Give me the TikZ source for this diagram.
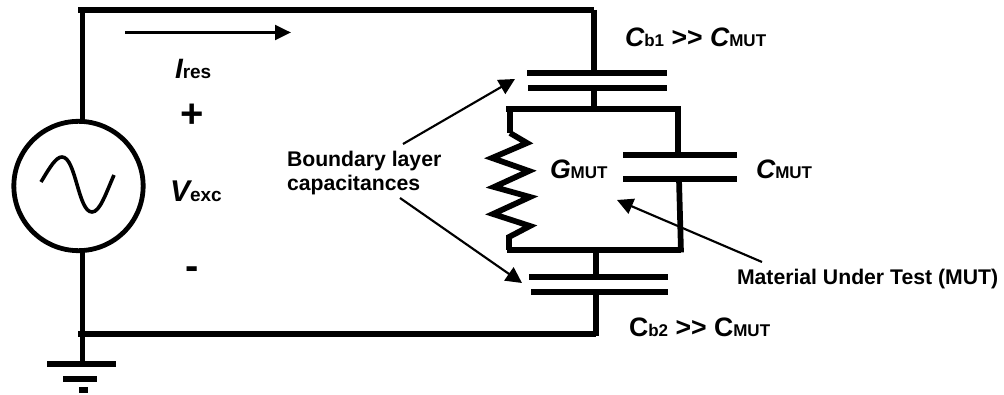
\documentclass[tikz,border=0pt]{standalone}
\usepackage{fontspec}
\setmainfont{Liberation Sans}
\usetikzlibrary{arrows.meta}
\newcommand{\bigsz}{\fontsize{20pt}{22pt}\selectfont}
\newcommand{\subsz}{\fontsize{12.75pt}{15pt}\selectfont}
\newcommand{\lblsz}{\fontsize{15.9pt}{18pt}\selectfont}
\newcommand{\symsz}{\fontsize{30pt}{32pt}\selectfont}
\newcommand{\quant}[2]{{\bigsz\itshape #1}{\subsz #2}}
\newcommand{\quantup}[2]{{\bigsz #1}{\subsz #2}}
\tikzset{
  x=0.75pt,y=-0.75pt,
  wire/.style={line width=4.3pt,line cap=butt,line join=miter,black},
  plate/.style={line width=4pt,black},
  ptr/.style={line width=1.6pt,black,-{Triangle[length=12pt,width=12pt]}},
  curr/.style={line width=2.4pt,black,-{Triangle[length=12pt,width=11pt]}},
  lab/.style={inner sep=0pt,outer sep=0pt,anchor=base west,font=\bfseries,text=black},
  labs/.style={lab,font=\bfseries\lblsz,align=left},
  source/.style={circle,draw=black,line width=3.6pt,minimum size=97pt,inner sep=0pt,fill=none},
}
\begin{document}
\begin{tikzpicture}
\useasboundingbox (0,0) rectangle (1004,395);
% source
\node[source] (src) at (78.5,186) {};
\coordinate (tl) at (78,10);
\coordinate (tlv) at (82.5,8);
\coordinate (srct) at (82.5,120);
\coordinate (srcb) at (82.5,252);
\coordinate (blv) at (82.5,364);
\coordinate (bl) at (78,334);
\coordinate (tr) at (594,10);
\coordinate (c1a) at (594,73);
\coordinate (c1b) at (594,88);
\coordinate (tbar) at (594,109);
\coordinate (tbl) at (506,109);
\coordinate (tbr) at (681,109);
\coordinate (rtop) at (510,107);
\coordinate (r0) at (510,133);
\coordinate (r1) at (527,143);
\coordinate (r2) at (492,158);
\coordinate (r3) at (529,171);
\coordinate (r4) at (494,187);
\coordinate (r5) at (530,197);
\coordinate (r6) at (493,214);
\coordinate (r7) at (530,226);
\coordinate (r8) at (509,237);
\coordinate (rbot) at (509,250);
\coordinate (cmt) at (678,107);
\coordinate (cma) at (678,155);
\coordinate (cmb) at (679,179);
\coordinate (cmbot) at (681,252.5);
\coordinate (bbl) at (506.5,250);
\coordinate (bbm) at (596,250);
\coordinate (c2a) at (596,277);
\coordinate (c2b) at (596,292);
\coordinate (br) at (596,336.5);
\coordinate (brw) at (596,334);
% wires
\draw[wire] (tl) -- (tr);
\draw[wire] (tlv) -- (srct);
\draw[wire] (srcb) -- (blv);
\draw[wire] (bl) -- (brw);
\draw[wire] (tr) -- (c1a);
\draw[wire] (c1b) -- (tbar);
\draw[wire] (tbl) -- (tbr);
\draw[wire] (rtop) -- (r0);
\draw[wire] (r0) -- (r1) -- (r2) -- (r3) -- (r4) -- (r5) -- (r6) -- (r7) -- (r8) -- (rbot);
\draw[wire] (cmt) -- (cma);
\draw[wire] (cmb) -- (cmbot);
\draw[wire] (bbl) -- (cmbot |- bbl);
\draw[wire] (bbm) -- (c2a);
\draw[wire] (c2b) -- (br);
% plates
\coordinate (p1l) at (527,73); \coordinate (p1r) at (667,73);
\coordinate (p2l) at (528,88); \coordinate (p2r) at (667,88);
\coordinate (p3l) at (529,277); \coordinate (p3r) at (668,277);
\coordinate (p4l) at (531,292); \coordinate (p4r) at (668,292);
\coordinate (p5l) at (623,155); \coordinate (p5r) at (737,155);
\coordinate (p6l) at (623,179); \coordinate (p6r) at (737,179);
\draw[plate] (p1l) -- (p1r);
\draw[plate] (p2l) -- (p2r);
\draw[plate] (p3l) -- (p3r);
\draw[plate] (p4l) -- (p4r);
\draw[plate] (p5l) -- (p5r);
\draw[plate] (p6l) -- (p6r);
% ground
\coordinate (g1l) at (47,364); \coordinate (g1r) at (116,364);
\coordinate (g2l) at (63,379); \coordinate (g2r) at (97,379);
\coordinate (g3l) at (79,390); \coordinate (g3r) at (88,390);
\draw[wire] (g1l) -- (g1r);
\draw[wire] (g2l) -- (g2r);
\draw[wire] (g3l) -- (g3r);
% sine
\coordinate (s0) at (41,182); \coordinate (s1) at (114,175);
\draw[line width=2.7pt,black] (s0) .. controls (50,167) and (56,157) .. (62,157)
  .. controls (76,157) and (78,212) .. (92,212)
  .. controls (100,212) and (106,193) .. (s1);
% current arrow
\coordinate (ia) at (125,32.5); \coordinate (ib) at (291,32.5);
\draw[curr] (ia) -- (ib);
% pointer arrows
\node[labs,anchor=base west] (bl1) at (287,167) {Boundary layer};
\node[labs,anchor=base west] (bl2) at (287,191) {capacitances};
\coordinate (ba1) at (403,144); \coordinate (bt1) at (515,79);
\coordinate (ba2) at (400,198); \coordinate (bt2) at (522,283);
\coordinate (ma) at (762,262); \coordinate (mt) at (617,200);
\draw[ptr] (ba1) -- (bt1);
\draw[ptr] (ba2) -- (bt2);
\draw[ptr] (ma) -- (mt);
% labels
\node[labs] (mut) at (737,285) {Material Under Test (MUT)};
\node[lab] (ires) at (175,79) {{\fontsize{21pt}{23pt}\selectfont\itshape I}{\fontsize{14.25pt}{16pt}\selectfont res}};
\node[lab] (vexc) at (170,202) {{\fontsize{22.5pt}{24pt}\selectfont\itshape V}{\fontsize{14.25pt}{16pt}\selectfont exc}};
\node[lab,font=\bfseries\symsz,anchor=center] (plus) at (192,116) {+};
\node[lab,font=\bfseries\symsz,anchor=center] (minus) at (192,273) {-};
\node[lab] (cb1) at (625,47) {\quant{C}{b1}{\bigsz\ >{}> }\quant{C}{MUT}};
\node[lab] (cb2) at (629,337) {\quantup{C}{b2}{\bigsz\ >{}> }\quantup{C}{MUT}};
\node[lab] (cmut) at (756,179) {\quant{C}{MUT}};
\node[lab] (gmut) at (550,179) {\quant{G}{MUT}};
\end{tikzpicture}
\end{document}
